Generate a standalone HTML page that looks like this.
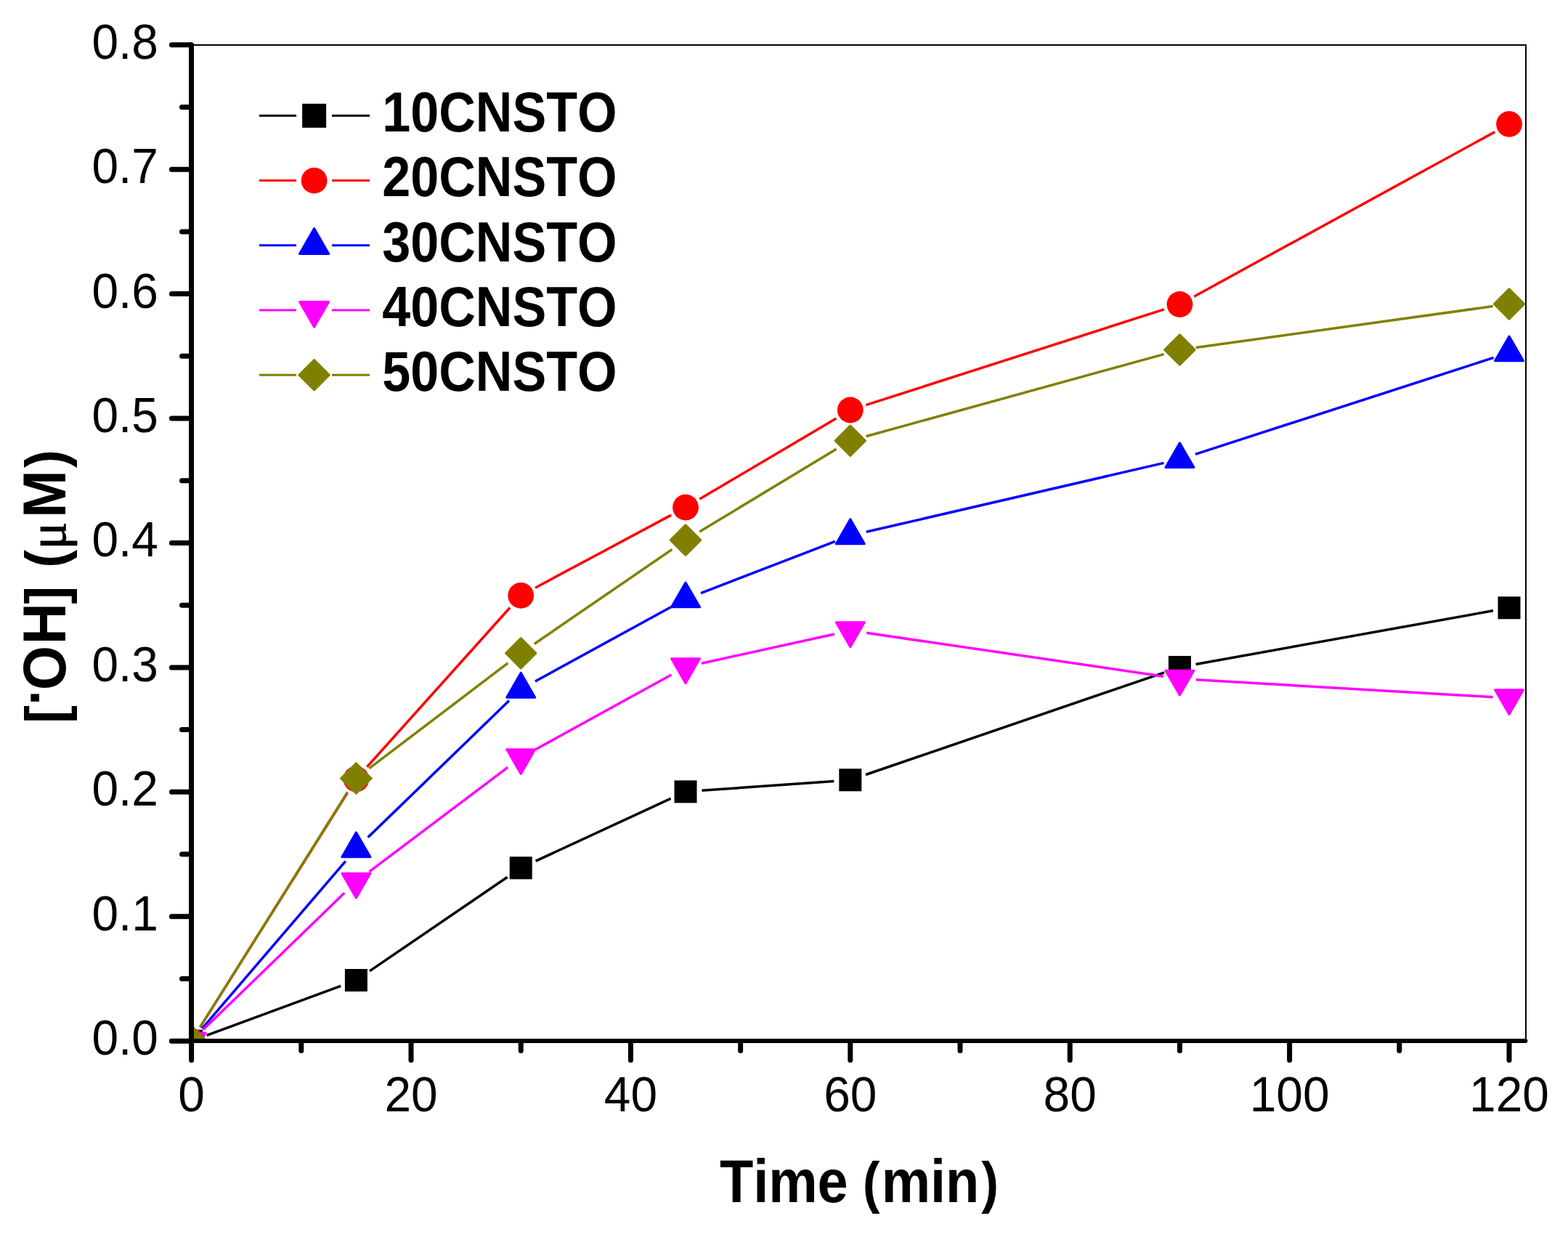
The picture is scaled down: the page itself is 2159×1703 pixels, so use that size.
<!DOCTYPE html><html><head><meta charset="utf-8"><style>html,body{margin:0;padding:0;background:#fff;}svg{display:block;}text{font-kerning:none;}</style></head><body>
<svg width="2159" height="1703" viewBox="0 0 2159 1703">
<rect width="2159" height="1703" fill="#fff"/>
<defs><clipPath id="pc"><rect x="263.6" y="61" width="1837.4" height="1372.2"/></clipPath></defs>
<g clip-path="url(#pc)">
<path d="M284.71 1425.41L469.29 1357.29M508.99 1336.83L698.61 1207.57M737.62 1185.45L923.58 1099.35M966.44 1088.31L1148.36 1075.39M1192.09 1066.51L1603.11 925.79M1646.54 914.51L2055.86 840.79" stroke="#000000" stroke-width="3.5" fill="none" stroke-linecap="butt"/>
<path d="M275.58 1414.15L478.42 1091.55M505.43 1055.76L702.17 836.54M737.04 809.19L924.16 709.11M963.37 687.05L1151.43 575.95M1192.22 557.63L1602.98 425.87M1644.14 408.20L2058.26 181.60" stroke="#ff0000" stroke-width="3.5" fill="none" stroke-linecap="butt"/>
<path d="M278.24 1416.11L475.76 1185.59M506.56 1152.85L701.04 964.55M736.93 938.09L924.27 835.41M965.00 816.53L1149.80 745.47M1192.72 732.32L1602.48 637.38M1645.81 625.37L2056.59 492.43" stroke="#0000ff" stroke-width="3.5" fill="none" stroke-linecap="butt"/>
<path d="M279.77 1417.55L474.23 1229.35M508.37 1200.16L699.23 1056.44M736.91 1032.05L924.29 928.95M965.97 913.26L1148.83 872.94M1193.06 871.35L1602.14 931.15M1646.86 935.72L2055.54 959.68" stroke="#ff00ff" stroke-width="3.5" fill="none" stroke-linecap="butt"/>
<path d="M275.56 1414.14L478.44 1090.66M508.31 1057.98L699.29 912.82M735.75 886.47L925.45 756.33M963.26 731.97L1151.54 618.33M1192.49 600.72L1602.71 487.58M1646.69 478.50L2055.71 421.60" stroke="#808000" stroke-width="3.5" fill="none" stroke-linecap="butt"/>
<rect x="248.10" y="1417.70" width="31.00" height="31.00" fill="#000000"/>
<rect x="474.90" y="1334.00" width="31.00" height="31.00" fill="#000000"/>
<rect x="701.70" y="1179.40" width="31.00" height="31.00" fill="#000000"/>
<rect x="928.50" y="1074.40" width="31.00" height="31.00" fill="#000000"/>
<rect x="1155.30" y="1058.30" width="31.00" height="31.00" fill="#000000"/>
<rect x="1608.90" y="903.00" width="31.00" height="31.00" fill="#000000"/>
<rect x="2062.50" y="821.30" width="31.00" height="31.00" fill="#000000"/>
<circle cx="263.60" cy="1433.20" r="17.90" fill="#ff0000"/>
<circle cx="490.40" cy="1072.50" r="17.90" fill="#ff0000"/>
<circle cx="717.20" cy="819.80" r="17.90" fill="#ff0000"/>
<circle cx="944.00" cy="698.50" r="17.90" fill="#ff0000"/>
<circle cx="1170.80" cy="564.50" r="17.90" fill="#ff0000"/>
<circle cx="1624.40" cy="419.00" r="17.90" fill="#ff0000"/>
<circle cx="2078.00" cy="170.80" r="17.90" fill="#ff0000"/>
<polygon points="263.60,1410.67 283.10,1444.47 244.10,1444.47" fill="#0000ff" stroke="#0000ff" stroke-width="3.0" stroke-linejoin="round"/>
<polygon points="490.40,1145.97 509.90,1179.77 470.90,1179.77" fill="#0000ff" stroke="#0000ff" stroke-width="3.0" stroke-linejoin="round"/>
<polygon points="717.20,926.37 736.70,960.17 697.70,960.17" fill="#0000ff" stroke="#0000ff" stroke-width="3.0" stroke-linejoin="round"/>
<polygon points="944.00,802.07 963.50,835.87 924.50,835.87" fill="#0000ff" stroke="#0000ff" stroke-width="3.0" stroke-linejoin="round"/>
<polygon points="1170.80,714.87 1190.30,748.67 1151.30,748.67" fill="#0000ff" stroke="#0000ff" stroke-width="3.0" stroke-linejoin="round"/>
<polygon points="1624.40,609.77 1643.90,643.57 1604.90,643.57" fill="#0000ff" stroke="#0000ff" stroke-width="3.0" stroke-linejoin="round"/>
<polygon points="2078.00,462.97 2097.50,496.77 2058.50,496.77" fill="#0000ff" stroke="#0000ff" stroke-width="3.0" stroke-linejoin="round"/>
<polygon points="244.10,1421.93 283.10,1421.93 263.60,1455.73" fill="#ff00ff" stroke="#ff00ff" stroke-width="3.0" stroke-linejoin="round"/>
<polygon points="470.90,1202.43 509.90,1202.43 490.40,1236.23" fill="#ff00ff" stroke="#ff00ff" stroke-width="3.0" stroke-linejoin="round"/>
<polygon points="697.70,1031.63 736.70,1031.63 717.20,1065.43" fill="#ff00ff" stroke="#ff00ff" stroke-width="3.0" stroke-linejoin="round"/>
<polygon points="924.50,906.83 963.50,906.83 944.00,940.63" fill="#ff00ff" stroke="#ff00ff" stroke-width="3.0" stroke-linejoin="round"/>
<polygon points="1151.30,856.83 1190.30,856.83 1170.80,890.63" fill="#ff00ff" stroke="#ff00ff" stroke-width="3.0" stroke-linejoin="round"/>
<polygon points="1604.90,923.13 1643.90,923.13 1624.40,956.93" fill="#ff00ff" stroke="#ff00ff" stroke-width="3.0" stroke-linejoin="round"/>
<polygon points="2058.50,949.73 2097.50,949.73 2078.00,983.53" fill="#ff00ff" stroke="#ff00ff" stroke-width="3.0" stroke-linejoin="round"/>
<polygon points="263.60,1412.50 284.30,1433.20 263.60,1453.90 242.90,1433.20" fill="#808000" stroke="#808000" stroke-width="3.0" stroke-linejoin="round"/>
<polygon points="490.40,1050.90 511.10,1071.60 490.40,1092.30 469.70,1071.60" fill="#808000" stroke="#808000" stroke-width="3.0" stroke-linejoin="round"/>
<polygon points="717.20,878.50 737.90,899.20 717.20,919.90 696.50,899.20" fill="#808000" stroke="#808000" stroke-width="3.0" stroke-linejoin="round"/>
<polygon points="944.00,722.90 964.70,743.60 944.00,764.30 923.30,743.60" fill="#808000" stroke="#808000" stroke-width="3.0" stroke-linejoin="round"/>
<polygon points="1170.80,586.00 1191.50,606.70 1170.80,627.40 1150.10,606.70" fill="#808000" stroke="#808000" stroke-width="3.0" stroke-linejoin="round"/>
<polygon points="1624.40,460.90 1645.10,481.60 1624.40,502.30 1603.70,481.60" fill="#808000" stroke="#808000" stroke-width="3.0" stroke-linejoin="round"/>
<polygon points="2078.00,397.80 2098.70,418.50 2078.00,439.20 2057.30,418.50" fill="#808000" stroke="#808000" stroke-width="3.0" stroke-linejoin="round"/>
</g>
<line x1="263.6" y1="62" x2="2101" y2="62" stroke="#000" stroke-width="2"/>
<line x1="2101" y1="61" x2="2101" y2="1433.2" stroke="#000" stroke-width="2"/>
<line x1="263.5" y1="61.8" x2="263.5" y2="1433.2" stroke="#000" stroke-width="7" stroke-linecap="round"/>
<line x1="236" y1="1433.0" x2="2100.4" y2="1433.0" stroke="#000" stroke-width="6" stroke-linecap="round"/>
<line x1="262.5" y1="1433.20" x2="236.4" y2="1433.20" stroke="#000" stroke-width="7" stroke-linecap="round"/>
<line x1="262.5" y1="1347.49" x2="250.5" y2="1347.49" stroke="#000" stroke-width="7" stroke-linecap="round"/>
<line x1="262.5" y1="1261.77" x2="236.4" y2="1261.77" stroke="#000" stroke-width="7" stroke-linecap="round"/>
<line x1="262.5" y1="1176.06" x2="250.5" y2="1176.06" stroke="#000" stroke-width="7" stroke-linecap="round"/>
<line x1="262.5" y1="1090.34" x2="236.4" y2="1090.34" stroke="#000" stroke-width="7" stroke-linecap="round"/>
<line x1="262.5" y1="1004.62" x2="250.5" y2="1004.62" stroke="#000" stroke-width="7" stroke-linecap="round"/>
<line x1="262.5" y1="918.91" x2="236.4" y2="918.91" stroke="#000" stroke-width="7" stroke-linecap="round"/>
<line x1="262.5" y1="833.20" x2="250.5" y2="833.20" stroke="#000" stroke-width="7" stroke-linecap="round"/>
<line x1="262.5" y1="747.48" x2="236.4" y2="747.48" stroke="#000" stroke-width="7" stroke-linecap="round"/>
<line x1="262.5" y1="661.77" x2="250.5" y2="661.77" stroke="#000" stroke-width="7" stroke-linecap="round"/>
<line x1="262.5" y1="576.05" x2="236.4" y2="576.05" stroke="#000" stroke-width="7" stroke-linecap="round"/>
<line x1="262.5" y1="490.34" x2="250.5" y2="490.34" stroke="#000" stroke-width="7" stroke-linecap="round"/>
<line x1="262.5" y1="404.62" x2="236.4" y2="404.62" stroke="#000" stroke-width="7" stroke-linecap="round"/>
<line x1="262.5" y1="318.90" x2="250.5" y2="318.90" stroke="#000" stroke-width="7" stroke-linecap="round"/>
<line x1="262.5" y1="233.19" x2="236.4" y2="233.19" stroke="#000" stroke-width="7" stroke-linecap="round"/>
<line x1="262.5" y1="147.48" x2="250.5" y2="147.48" stroke="#000" stroke-width="7" stroke-linecap="round"/>
<line x1="262.5" y1="61.76" x2="236.4" y2="61.76" stroke="#000" stroke-width="7" stroke-linecap="round"/>
<line x1="263.60" y1="1434.5" x2="263.60" y2="1459.5" stroke="#000" stroke-width="7" stroke-linecap="round"/>
<line x1="414.80" y1="1434.5" x2="414.80" y2="1446.5" stroke="#000" stroke-width="7" stroke-linecap="round"/>
<line x1="566.00" y1="1434.5" x2="566.00" y2="1459.5" stroke="#000" stroke-width="7" stroke-linecap="round"/>
<line x1="717.20" y1="1434.5" x2="717.20" y2="1446.5" stroke="#000" stroke-width="7" stroke-linecap="round"/>
<line x1="868.40" y1="1434.5" x2="868.40" y2="1459.5" stroke="#000" stroke-width="7" stroke-linecap="round"/>
<line x1="1019.60" y1="1434.5" x2="1019.60" y2="1446.5" stroke="#000" stroke-width="7" stroke-linecap="round"/>
<line x1="1170.80" y1="1434.5" x2="1170.80" y2="1459.5" stroke="#000" stroke-width="7" stroke-linecap="round"/>
<line x1="1322.00" y1="1434.5" x2="1322.00" y2="1446.5" stroke="#000" stroke-width="7" stroke-linecap="round"/>
<line x1="1473.20" y1="1434.5" x2="1473.20" y2="1459.5" stroke="#000" stroke-width="7" stroke-linecap="round"/>
<line x1="1624.40" y1="1434.5" x2="1624.40" y2="1446.5" stroke="#000" stroke-width="7" stroke-linecap="round"/>
<line x1="1775.60" y1="1434.5" x2="1775.60" y2="1459.5" stroke="#000" stroke-width="7" stroke-linecap="round"/>
<line x1="1926.80" y1="1434.5" x2="1926.80" y2="1446.5" stroke="#000" stroke-width="7" stroke-linecap="round"/>
<line x1="2078.00" y1="1434.5" x2="2078.00" y2="1459.5" stroke="#000" stroke-width="7" stroke-linecap="round"/>
<text transform="translate(217.85 1452.10) scale(1 1.0497)" font-family="Liberation Sans, Arial, sans-serif" font-size="65.8" text-anchor="end">0.0</text>
<text transform="translate(217.85 1280.67) scale(1 1.0497)" font-family="Liberation Sans, Arial, sans-serif" font-size="65.8" text-anchor="end">0.1</text>
<text transform="translate(217.85 1109.24) scale(1 1.0497)" font-family="Liberation Sans, Arial, sans-serif" font-size="65.8" text-anchor="end">0.2</text>
<text transform="translate(217.85 937.81) scale(1 1.0497)" font-family="Liberation Sans, Arial, sans-serif" font-size="65.8" text-anchor="end">0.3</text>
<text transform="translate(217.85 766.38) scale(1 1.0497)" font-family="Liberation Sans, Arial, sans-serif" font-size="65.8" text-anchor="end">0.4</text>
<text transform="translate(217.85 594.95) scale(1 1.0497)" font-family="Liberation Sans, Arial, sans-serif" font-size="65.8" text-anchor="end">0.5</text>
<text transform="translate(217.85 423.52) scale(1 1.0497)" font-family="Liberation Sans, Arial, sans-serif" font-size="65.8" text-anchor="end">0.6</text>
<text transform="translate(217.85 252.09) scale(1 1.0497)" font-family="Liberation Sans, Arial, sans-serif" font-size="65.8" text-anchor="end">0.7</text>
<text transform="translate(217.85 80.66) scale(1 1.0497)" font-family="Liberation Sans, Arial, sans-serif" font-size="65.8" text-anchor="end">0.8</text>
<text transform="translate(263.60 1529.9) scale(1 1.0497)" font-family="Liberation Sans, Arial, sans-serif" font-size="65.8" text-anchor="middle">0</text>
<text transform="translate(566.00 1529.9) scale(1 1.0497)" font-family="Liberation Sans, Arial, sans-serif" font-size="65.8" text-anchor="middle">20</text>
<text transform="translate(868.40 1529.9) scale(1 1.0497)" font-family="Liberation Sans, Arial, sans-serif" font-size="65.8" text-anchor="middle">40</text>
<text transform="translate(1170.80 1529.9) scale(1 1.0497)" font-family="Liberation Sans, Arial, sans-serif" font-size="65.8" text-anchor="middle">60</text>
<text transform="translate(1473.20 1529.9) scale(1 1.0497)" font-family="Liberation Sans, Arial, sans-serif" font-size="65.8" text-anchor="middle">80</text>
<text transform="translate(1775.60 1529.9) scale(1 1.0497)" font-family="Liberation Sans, Arial, sans-serif" font-size="65.8" text-anchor="middle">100</text>
<text transform="translate(2078.00 1529.9) scale(1 1.0497)" font-family="Liberation Sans, Arial, sans-serif" font-size="65.8" text-anchor="middle">120</text>
<line x1="357" y1="159.30" x2="408" y2="159.30" stroke="#000000" stroke-width="3"/>
<line x1="457" y1="159.30" x2="509" y2="159.30" stroke="#000000" stroke-width="3"/>
<rect x="416.10" y="142.80" width="33.00" height="33.00" fill="#000000"/>
<text transform="translate(526.3 181.10) scale(1 1.0989)" font-family="Liberation Sans, Arial, sans-serif" font-weight="bold" font-size="70.1">10CNSTO</text>
<line x1="357" y1="248.55" x2="408" y2="248.55" stroke="#ff0000" stroke-width="3"/>
<line x1="457" y1="248.55" x2="509" y2="248.55" stroke="#ff0000" stroke-width="3"/>
<circle cx="432.60" cy="248.55" r="17.90" fill="#ff0000"/>
<text transform="translate(526.3 270.35) scale(1 1.0989)" font-family="Liberation Sans, Arial, sans-serif" font-weight="bold" font-size="70.1">20CNSTO</text>
<line x1="357" y1="337.80" x2="408" y2="337.80" stroke="#0000ff" stroke-width="3"/>
<line x1="457" y1="337.80" x2="509" y2="337.80" stroke="#0000ff" stroke-width="3"/>
<polygon points="432.60,314.59 452.69,349.40 412.52,349.40" fill="#0000ff" stroke="#0000ff" stroke-width="3.0" stroke-linejoin="round"/>
<text transform="translate(526.3 359.60) scale(1 1.0989)" font-family="Liberation Sans, Arial, sans-serif" font-weight="bold" font-size="70.1">30CNSTO</text>
<line x1="357" y1="427.05" x2="408" y2="427.05" stroke="#ff00ff" stroke-width="3"/>
<line x1="457" y1="427.05" x2="509" y2="427.05" stroke="#ff00ff" stroke-width="3"/>
<polygon points="412.52,415.45 452.69,415.45 432.60,450.26" fill="#ff00ff" stroke="#ff00ff" stroke-width="3.0" stroke-linejoin="round"/>
<text transform="translate(526.3 448.85) scale(1 1.0989)" font-family="Liberation Sans, Arial, sans-serif" font-weight="bold" font-size="70.1">40CNSTO</text>
<line x1="357" y1="516.30" x2="408" y2="516.30" stroke="#808000" stroke-width="3"/>
<line x1="457" y1="516.30" x2="509" y2="516.30" stroke="#808000" stroke-width="3"/>
<polygon points="432.60,495.60 453.30,516.30 432.60,537.00 411.90,516.30" fill="#808000" stroke="#808000" stroke-width="3.0" stroke-linejoin="round"/>
<text transform="translate(526.3 538.10) scale(1 1.0989)" font-family="Liberation Sans, Arial, sans-serif" font-weight="bold" font-size="70.1">50CNSTO</text>
<text transform="translate(0 1654.9) scale(1 1.0897)" font-family="Liberation Sans, Arial, sans-serif" font-weight="bold" font-size="75.76"><tspan x="990.95">Time </tspan><tspan x="1187.64" font-size="71.5">(</tspan><tspan x="1213.71">min</tspan><tspan x="1351.23" font-size="71.5">)</tspan></text>
<g transform="translate(90 991.9) rotate(-90)"><text transform="scale(1 1.05)" font-family="Liberation Sans, Arial, sans-serif" font-weight="bold" font-size="78.9"><tspan x="-4.19" font-size="74.6">[</tspan><tspan x="20.87" dy="-15" font-size="74.6">&#183;</tspan><tspan x="41.77 104.72" dy="15">OH</tspan><tspan x="160.09" font-size="74.6">] </tspan><tspan x="210.08" font-size="74.6">(</tspan><tspan x="235.44" font-size="71" font-family="Liberation Serif, serif" font-weight="normal" stroke="#000" stroke-width="0.8">&#956;</tspan><tspan x="278.82">M</tspan><tspan x="347.93" font-size="74.6">)</tspan></text></g>
</svg></body></html>
